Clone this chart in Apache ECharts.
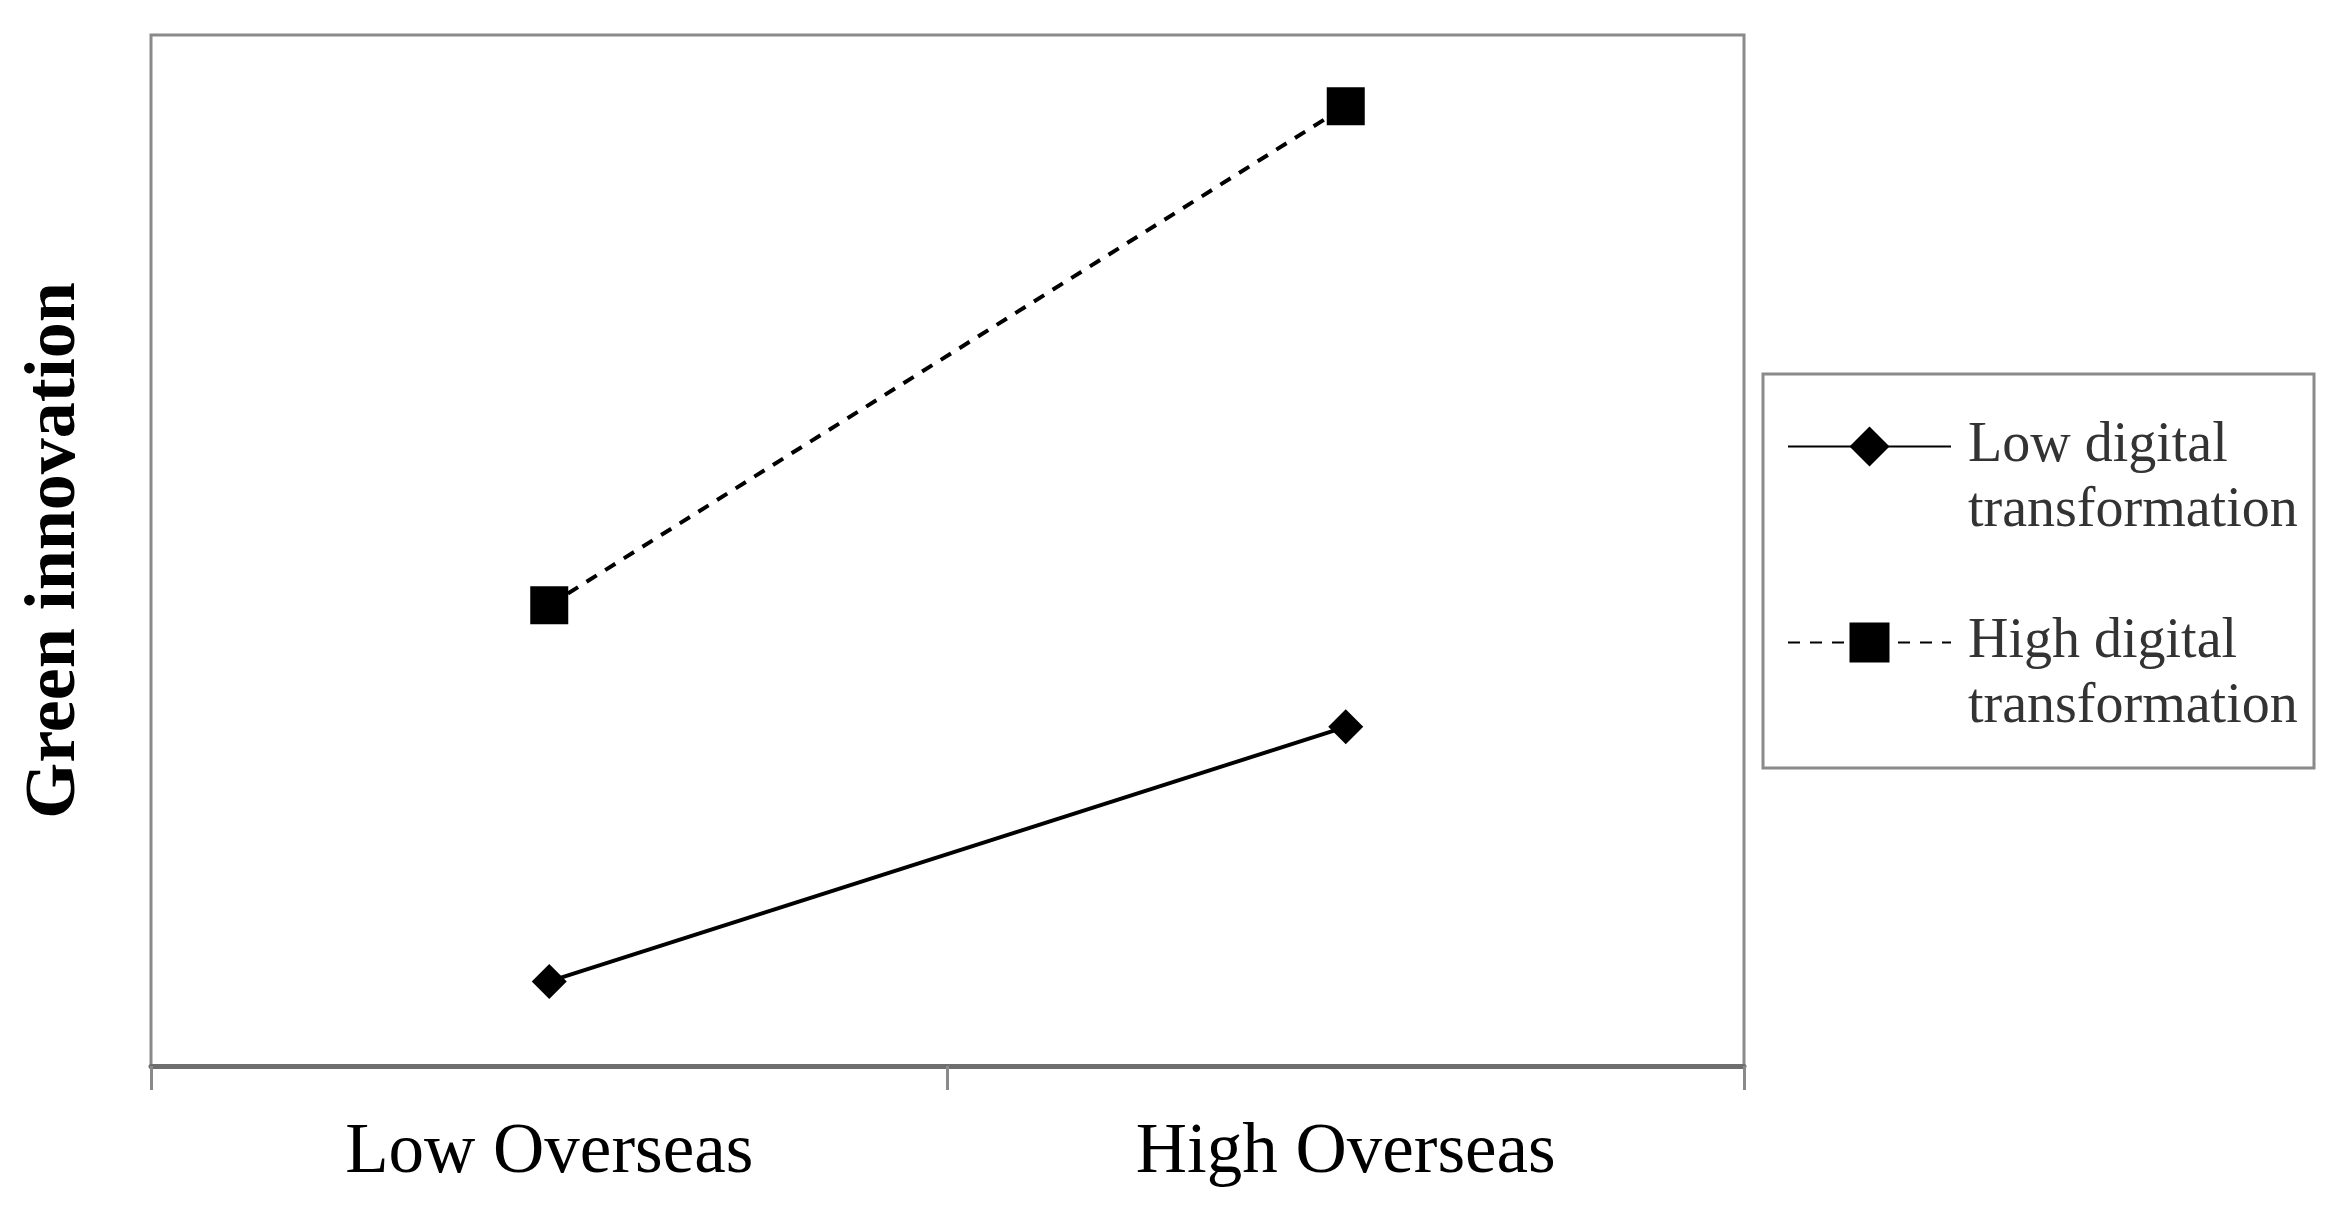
<!DOCTYPE html>
<html>
<head>
<meta charset="utf-8">
<style>html,body{margin:0;padding:0;background:#fff;}#chart{width:2342px;height:1210px;}</style>
<script src="https://cdn.jsdelivr.net/npm/echarts@6/dist/echarts.min.js"></script>
</head>
<body>
<div id="chart"></div>
<script>
const categories = ['Low Overseas', 'High Overseas'];
const seriesNames = ['Low digital\ntransformation', 'High digital\ntransformation'];
const lowDigital = [0.82, 3.29];
const highDigital = [4.47, 9.31];
const yAxisTitle = 'Green innovation';

const FONT = "'Liberation Serif', 'Times New Roman', serif";
const chart = echarts.init(document.getElementById('chart'));
chart.setOption({
  backgroundColor: '#fff',
  animation: false,
  grid: { left: 151, right: 598, top: 35, bottom: 144, show: true, borderColor: '#8a8a8a', borderWidth: 3, outerBoundsMode: 'none', containLabel: false },
  xAxis: {
    type: 'category',
    data: categories,
    boundaryGap: true,
    axisLine: { lineStyle: { color: '#6e6e6e', width: 5 } },
    axisTick: { show: true, length: 24, alignWithLabel: false, lineStyle: { color: '#8a8a8a', width: 3 } },
    axisLabel: { color: '#000', fontFamily: FONT, fontSize: 71, margin: 52 }
  },
  yAxis: {
    type: 'value', min: 0, max: 10,
    name: yAxisTitle, nameLocation: 'middle', nameGap: 60,
    nameTextStyle: { color: '#000', fontFamily: FONT, fontSize: 72, fontWeight: 'bold' },
    axisLine: { show: false }, axisTick: { show: false }, axisLabel: { show: false }, splitLine: { show: false }
  },
  legend: {
    orient: 'vertical', left: 1787, top: 349, padding: 0, itemGap: 1,
    itemWidth: 163, itemHeight: 50, selectedMode: false,
    formatter: function (name) { return '\n' + name; },
    textStyle: { color: '#333', fontFamily: FONT, fontSize: 56, lineHeight: 65, padding: [0, 0, 0, 12] },
    data: seriesNames
  },
  graphic: [{
    type: 'rect', shape: { x: 1763, y: 374, width: 551, height: 394 },
    style: { fill: 'none', stroke: '#8a8a8a', lineWidth: 3 }, silent: true
  }],
  series: [
    {
      name: seriesNames[0], type: 'line', data: lowDigital,
      symbol: 'diamond', symbolSize: 35,
      lineStyle: { color: '#000', width: 4, type: 'solid' },
      itemStyle: { color: '#000' }
    },
    {
      name: seriesNames[1], type: 'line', data: highDigital,
      symbol: 'rect', symbolSize: 38,
      lineStyle: { color: '#000', width: 4, type: [12, 10] },
      itemStyle: { color: '#000' }
    }
  ]
});
</script>
</body>
</html>
